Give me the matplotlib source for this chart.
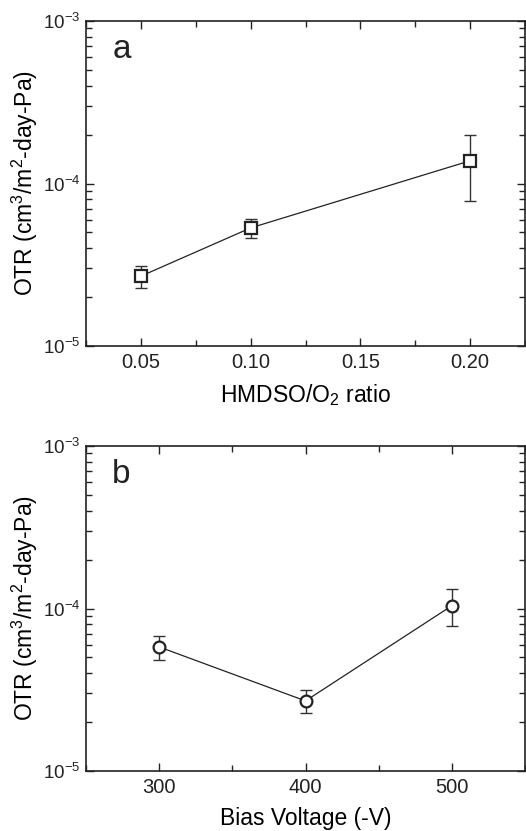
import matplotlib
matplotlib.use("Agg")
import matplotlib.pyplot as plt
from matplotlib.ticker import LogLocator, MultipleLocator, FixedLocator, NullFormatter

plt.rcParams['font.family'] = ['Liberation Sans', 'DejaVu Sans']
plt.rcParams['mathtext.fontset'] = 'custom'
plt.rcParams['mathtext.rm'] = 'Liberation Sans'
plt.rcParams['mathtext.it'] = 'Liberation Sans'
plt.rcParams['mathtext.default'] = 'regular'

# panel a: OTR vs HMDSO/O2 ratio
ratio = [0.05, 0.10, 0.20]
otr_a = [2.69e-5, 5.33e-5, 1.38e-4]
otr_a_hi = [3.11e-5, 6.03e-5, 1.99e-4]
otr_a_lo = [2.27e-5, 4.62e-5, 7.76e-5]

# panel b: OTR vs bias voltage
bias = [300, 400, 500]
otr_b = [5.80e-5, 2.70e-5, 1.04e-4]
otr_b_hi = [6.81e-5, 3.13e-5, 1.31e-4]
otr_b_lo = [4.84e-5, 2.28e-5, 7.80e-5]

ylab = 'OTR (cm$^3$/m$^2$-day-Pa)'
ytick_vals = [1e-5, 1e-4, 1e-3]
ytick_txt = ['10$^{-5}$', '10$^{-4}$', '10$^{-3}$']

fig = plt.figure(figsize=(5.26, 8.31), dpi=100)
ax1 = fig.add_axes([86/526, 1-346/831, 439/526, 325/831])
ax2 = fig.add_axes([86/526, 1-771/831, 439/526, 325/831])


def style(ax, x, y, hi, lo, marker):
    yerr = [[v - l for v, l in zip(y, lo)], [h - v for v, h in zip(y, hi)]]
    ax.errorbar(x, y, yerr=yerr, fmt='none', ecolor='#333333', elinewidth=1.0,
                capsize=4, capthick=1.0, zorder=2)
    ax.plot(x, y, '-', color='#222222', lw=0.9, zorder=3)
    ax.plot(x, y, marker, ms=8.5, mfc='white', mec='#222222', mew=1.6,
            ls='none', zorder=4)
    ax.set_yscale('log')
    ax.set_ylim(1e-5, 1e-3)
    ax.yaxis.set_minor_locator(LogLocator(base=10, subs=range(2, 10), numticks=20))
    ax.yaxis.set_minor_formatter(NullFormatter())
    ax.yaxis.set_major_locator(FixedLocator(ytick_vals))
    ax.set_yticklabels(ytick_txt)
    ax.tick_params(which='both', direction='in', top=True, right=True,
                   width=1.0, colors='#222222')
    ax.tick_params(axis='x', labelsize=14.5, pad=5)
    ax.tick_params(axis='y', labelsize=13.5, pad=4)
    ax.tick_params(which='major', length=6)
    ax.tick_params(which='minor', length=4)
    for s in ax.spines.values():
        s.set_linewidth(1.2)
        s.set_color('#222222')
    ax.set_ylabel(ylab, fontsize=16.5)
    ax.yaxis.set_label_coords(-0.105, 0.5)


style(ax1, ratio, otr_a, otr_a_hi, otr_a_lo, 's')
style(ax2, bias, otr_b, otr_b_hi, otr_b_lo, 'o')

ax1.set_xlim(0.025, 0.225)
ax1.set_xticks([0.05, 0.10, 0.15, 0.20])
ax1.set_xticklabels(['0.05', '0.10', '0.15', '0.20'])
ax1.xaxis.set_minor_locator(MultipleLocator(0.025))
ax1.set_xlabel('HMDSO/O$_2$ ratio', fontsize=16.5, labelpad=7)
ax1.text(0.06, 0.96, 'a', transform=ax1.transAxes, fontsize=24,
         va='top', ha='left', color='#222222')

ax2.set_xlim(250, 550)
ax2.set_xticks([300, 400, 500])
ax2.xaxis.set_minor_locator(MultipleLocator(50))
ax2.set_xlabel('Bias Voltage (-V)', fontsize=16.5, labelpad=7)
ax2.text(0.06, 0.96, 'b', transform=ax2.transAxes, fontsize=24,
         va='top', ha='left', color='#222222')

fig.savefig('out.png', dpi=100)
